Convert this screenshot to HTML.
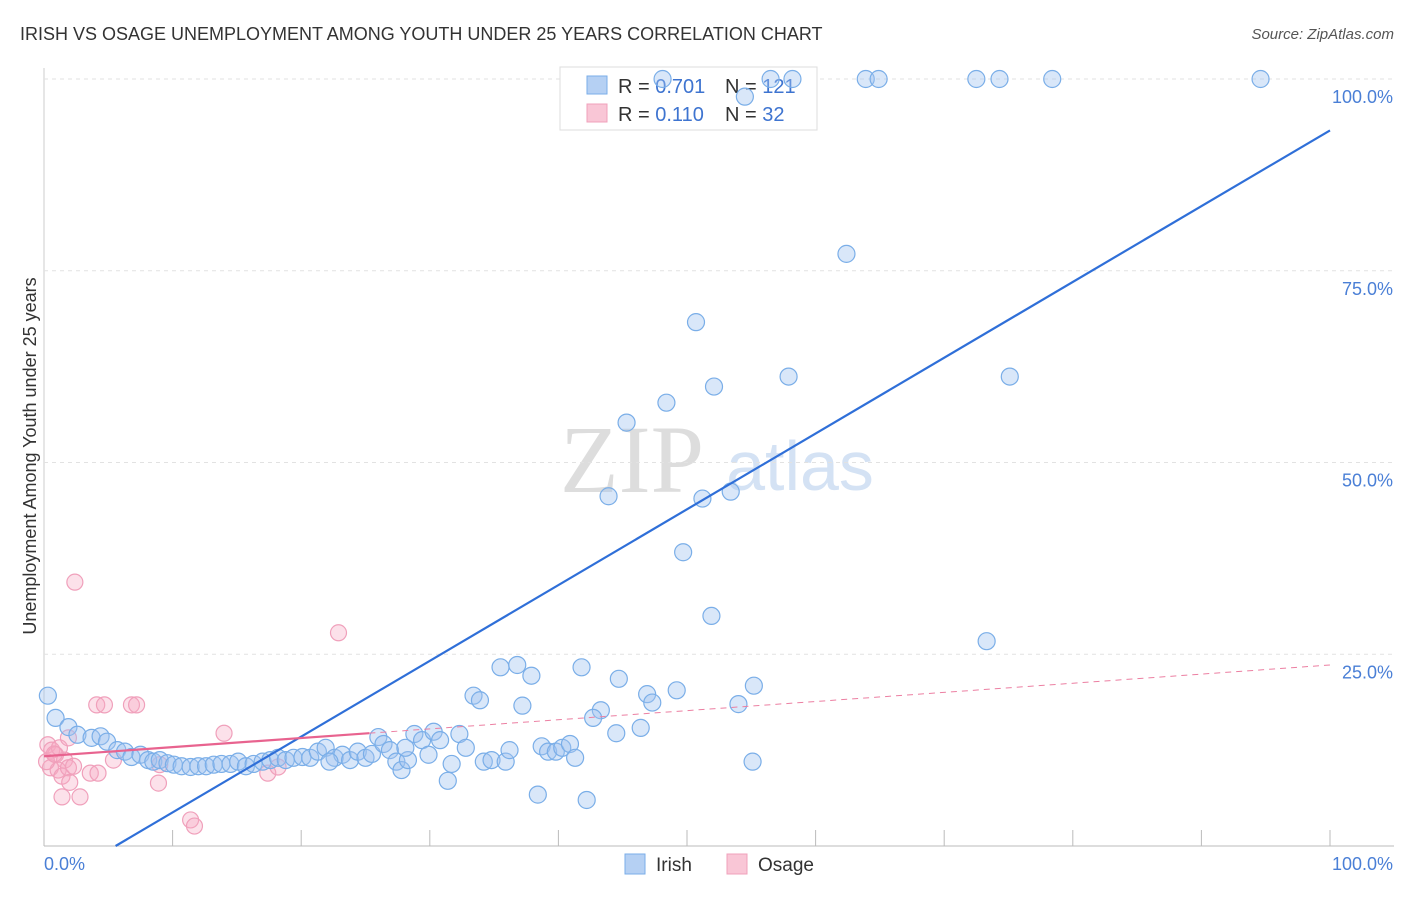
<!DOCTYPE html>
<html><head><meta charset="utf-8"><style>
body{margin:0;width:1406px;height:892px;background:#fff;font-family:"Liberation Sans",sans-serif;overflow:hidden}
</style></head><body>
<svg id="c" width="1406" height="892" xmlns="http://www.w3.org/2000/svg">
<text x="20" y="40" font-size="18" fill="#333">IRISH VS OSAGE UNEMPLOYMENT AMONG YOUTH UNDER 25 YEARS CORRELATION CHART</text>
<text x="1394" y="39" font-size="15" fill="#555" font-style="italic" text-anchor="end">Source: ZipAtlas.com</text>
<text x="36" y="456" font-size="18" fill="#333" text-anchor="middle" transform="rotate(-90 36 456)">Unemployment Among Youth under 25 years</text>
<g><text x="632" y="492" font-size="96" fill="#ddd" font-family="Liberation Serif,serif" text-anchor="middle">ZIP</text><text x="800" y="490" font-size="70" fill="#d4e2f4" text-anchor="middle">atlas</text></g>
<g id="grid"></g>
<g>
<rect x="560" y="67" width="257" height="63" fill="#fff" stroke="#ddd"/>
<rect x="587" y="76" width="20" height="18" fill="#b5d0f3" stroke="#7aaee8"/>
<rect x="587" y="104" width="20" height="18" fill="#f9c6d6" stroke="#f0a0bb"/>
<text x="618" y="93" font-size="20" fill="#333">R = <tspan fill="#3e74d0">0.701</tspan></text>
<text x="725" y="93" font-size="20" fill="#333">N = <tspan fill="#3e74d0">121</tspan></text>
<text x="618" y="121" font-size="20" fill="#333">R = <tspan fill="#3e74d0"> 0.110</tspan></text>
<text x="725" y="121" font-size="20" fill="#333">N = <tspan fill="#3e74d0"> 32</tspan></text>
</g>
<g id="marks"></g>
<g>
<rect x="625" y="854" width="20" height="20" fill="#b5d0f3" stroke="#7aaee8"/>
<text x="656" y="871" font-size="19" fill="#333">Irish</text>
<rect x="727" y="854" width="20" height="20" fill="#f9c6d6" stroke="#f0a0bb"/>
<text x="758" y="871" font-size="19" fill="#333">Osage</text>
</g>
</svg>
<script>
const yTicks=[25,50,75,100];
const yTickLabels=["25.0%","50.0%","75.0%","100.0%"];
const xTicks=[0,10,20,30,40,50,60,70,80,90,100];
const irishX=[48.1,56.5,58.2,63.9,64.9,72.5,74.3,78.4,94.6,54.5,62.4,50.7,52.1,57.9,75.1,48.4,45.3,43.9,51.2,53.4,49.7,51.9,73.3,35.5,36.8,37.9,41.8,44.7,33.4,33.9,37.2,46.9,47.3,49.2,55.2,54.0,43.3,42.7,46.4,44.5,55.1,42.2,38.4,31.4,0.3,0.9,1.9,2.6,3.7,4.4,4.9,5.7,6.3,6.8,7.5,8.1,8.5,9.0,9.6,10.1,10.7,11.4,12.0,12.6,13.2,13.8,14.5,15.1,15.7,16.3,17.0,17.6,18.2,18.8,19.4,20.1,20.7,21.3,21.9,22.6,23.2,23.8,24.4,25.0,25.5,26.0,26.4,26.9,27.4,27.8,28.3,28.8,29.4,29.9,30.3,30.8,31.7,32.3,32.8,34.2,34.8,35.9,36.2,38.7,39.2,39.8,40.3,40.9,41.3,28.1,22.2];
const irishY=[100,100,100,100,100,100,100,100,100,97.7,77.2,68.3,59.9,61.2,61.2,57.8,55.2,45.6,45.3,46.2,38.3,30.0,26.7,23.3,23.6,22.2,23.3,21.8,19.6,19.0,18.3,19.8,18.7,20.3,20.9,18.5,17.7,16.7,15.4,14.7,11.0,6.0,6.7,8.5,19.6,16.7,15.5,14.5,14.1,14.3,13.6,12.5,12.3,11.6,11.9,11.2,11.0,11.2,10.8,10.6,10.4,10.3,10.4,10.4,10.6,10.7,10.7,11.0,10.4,10.7,11.0,11.2,11.5,11.2,11.5,11.6,11.5,12.3,12.8,11.5,11.9,11.2,12.3,11.5,12.0,14.2,13.3,12.5,11.0,9.9,11.2,14.6,13.8,11.9,14.9,13.8,10.7,14.6,12.8,11.0,11.2,11.0,12.5,13.0,12.3,12.3,12.8,13.3,11.5,12.8,11.0];
const osageX=[2.4,22.9,4.1,4.7,6.8,7.2,14.0,0.3,0.6,0.9,1.2,1.6,1.9,0.5,1.1,1.4,1.9,2.3,3.6,4.2,1.4,2.8,2.0,8.9,11.4,11.7,17.4,18.2,5.4,9.0,0.2,0.8];
const osageY=[34.4,27.8,18.4,18.4,18.4,18.4,14.7,13.2,12.5,11.9,12.8,11.2,14.1,10.2,9.9,9.1,10.2,10.4,9.5,9.5,6.4,6.4,8.3,8.2,3.4,2.6,9.5,10.3,11.2,10.6,11.0,12.0];
const irishLine=[-5.5,0.988]; // intercept, slope
const osageLine=[11.7,0.119];
const X0=44,X1=1330,Y0=846,Y100=79;
const sx=v=>X0+(X1-X0)*v/100, sy=v=>Y0-(Y0-Y100)*v/100;
const NS="http://www.w3.org/2000/svg";
function mk(t,a,p){const e=document.createElementNS(NS,t);for(const k in a)e.setAttribute(k,a[k]);p.appendChild(e);return e;}
const g=document.getElementById('grid'),m=document.getElementById('marks');
mk('line',{x1:X0,y1:Y0,x2:1394,y2:Y0,stroke:'#bbb'},g);
mk('line',{x1:X0,y1:68,x2:X0,y2:Y0,stroke:'#ccc'},g);
yTicks.forEach((t,i)=>{
 const l=mk('line',{x1:X0,y1:sy(t),x2:1394,y2:sy(t),stroke:'#e2e2e2','stroke-dasharray':'4,4'},g);
 
 
 const tx=mk('text',{x:1393,y:sy(t)+24,'font-size':18,fill:'#4a7fd6','text-anchor':'end'},g);
 tx.textContent=yTickLabels[i];
 
 
});
xTicks.forEach(t=>{const l=mk('line',{x1:sx(t),y1:Y0,x2:sx(t),y2:Y0-16,stroke:'#bbb'},g);
 
 });
const xl=mk('text',{x:44,y:870,'font-size':18,fill:'#4a7fd6'},g);xl.textContent="0.0%";


const xr=mk('text',{x:1393,y:870,'font-size':18,fill:'#4a7fd6','text-anchor':'end'},g);xr.textContent="100.0%";


osageX.forEach((x,i)=>{const c=mk('circle',{cx:sx(x),cy:sy(osageY[i]),r:8,fill:'rgba(245,170,195,0.35)',stroke:'#f0a0bb','stroke-width':1.2},m);
 
 });
irishX.forEach((x,i)=>{const c=mk('circle',{cx:sx(x),cy:sy(irishY[i]),r:8.5,fill:'rgba(160,196,240,0.4)',stroke:'#7aaee8','stroke-width':1.2},m);
 
 });
const bx0=-irishLine[0]/irishLine[1];
const bl=mk('line',{x1:sx(bx0),y1:sy(0),x2:sx(100),y2:sy(irishLine[0]+irishLine[1]*100),stroke:'#2f6fd8','stroke-width':2.2},m);


const pd=mk('line',{x1:sx(25.3),y1:sy(osageLine[0]+osageLine[1]*25.3),x2:sx(100),y2:sy(osageLine[0]+osageLine[1]*100),stroke:'#ec7fa2','stroke-width':1,'stroke-dasharray':'6,5'},m);


const ps=mk('line',{x1:sx(0),y1:sy(osageLine[0]),x2:sx(25.3),y2:sy(osageLine[0]+osageLine[1]*25.3),stroke:'#e8638f','stroke-width':2.2},m);


</script>
</body></html>
